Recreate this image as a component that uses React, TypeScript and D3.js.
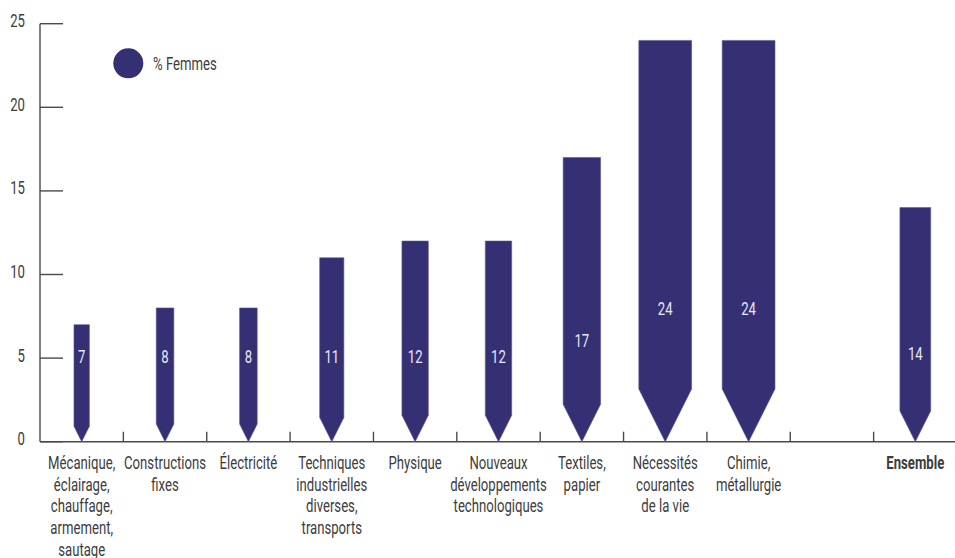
import React from "react";
import * as d3 from "d3";

const categories: string[][] = [
  ["Mécanique,", "éclairage,", "chauffage,", "armement,", "sautage"],
  ["Constructions", "fixes"],
  ["Électricité"],
  ["Techniques", "industrielles", "diverses,", "transports"],
  ["Physique"],
  ["Nouveaux", "développements", "technologiques"],
  ["Textiles,", "papier"],
  ["Nécessités", "courantes", "de la vie"],
  ["Chimie,", "métallurgie"],
  [],
  ["Ensemble"],
];
const values: (number | null)[] = [7, 8, 8, 11, 12, 12, 17, 24, 24, null, 14];
const boldFlags: boolean[] = [false, false, false, false, false, false, false, false, false, false, true];
const yTicks: number[] = [0, 5, 10, 15, 20, 25];
const legendLabel = "% Femmes";

const W = 955;
const H = 558;
const BAR = "#352f73";
const FONT = "Roboto, 'DejaVu Sans', sans-serif";
const SX = 0.73;
const FS = 18;

function CText(props: {
  x: number;
  y: number;
  anchor?: string;
  fill: string;
  bold?: boolean;
  dy?: string;
  children: React.ReactNode;
}) {
  return (
    <g transform={`translate(${props.x},${props.y}) scale(${SX},1)`}>
      <text
        x={0}
        y={0}
        dy={props.dy}
        textAnchor={props.anchor || "start"}
        fill={props.fill}
        fontSize={FS}
        fontWeight={props.bold ? "bold" : "normal"}
        fontFamily={FONT}
      >
        {props.children}
      </text>
    </g>
  );
}

export default function App() {
  const x = d3
    .scaleBand<number>()
    .domain(categories.map((_, i) => i))
    .range([40, 957])
    .padding(0);
  const y = d3.scaleLinear().domain([0, 25]).range([441.7, 23.7]);
  const wScale = d3.scaleLinear().domain([0, 1]).range([0, 2.2]);
  const labelVal = (v: number) => Math.max(5.12, 0.266 * v + 1.56);

  const bars = values.map((v, i) => {
    if (v == null) return null;
    const cx = (x(i) as number) + x.bandwidth() / 2;
    const w = wScale(v);
    const top = y(v);
    const tip = y(0);
    const h = w;
    const path = d3.path();
    path.moveTo(cx - w / 2, top);
    path.lineTo(cx + w / 2, top);
    path.lineTo(cx + w / 2, tip - h);
    path.lineTo(cx, tip);
    path.lineTo(cx - w / 2, tip - h);
    path.closePath();
    return (
      <g key={i}>
        <path d={path.toString()} fill={BAR} stroke="#5d5894" strokeWidth={0.6} />
        <CText x={cx} y={y(labelVal(v))} dy="0.36em" anchor="middle" fill="#e9e7f2">
          {v}
        </CText>
      </g>
    );
  });

  const boundaries = categories.slice(1).map((_, i) => x(i + 1) as number);

  return (
    <svg
      width={W}
      height={H}
      style={{ position: "absolute", left: 0, top: 0, display: "block", background: "#fff" }}
    >
      {/* y axis */}
      <line x1={40} x2={40} y1={y(25)} y2={y(0)} stroke="#4a4a4a" strokeWidth={1.4} />
      {yTicks.map((t) => (
        <g key={t}>
          <line x1={40} x2={63} y1={y(t)} y2={y(t)} stroke="#4a4a4a" strokeWidth={1.4} />
          <CText x={25} y={y(t) - 3} dy="0.36em" anchor="end" fill="#3c3c3c">
            {t}
          </CText>
        </g>
      ))}
      {/* x axis */}
      <line x1={40} x2={955} y1={y(0)} y2={y(0)} stroke="#4a4a4a" strokeWidth={1.4} />
      {boundaries.map((bx, i) => (
        <line key={i} x1={bx} x2={bx} y1={y(0)} y2={y(0) - 10} stroke="#4a4a4a" strokeWidth={1.4} />
      ))}
      {bars}
      {/* category labels */}
      {categories.map((lines, i) =>
        lines.map((l, j) => (
          <CText
            key={`${i}-${j}`}
            x={(x(i) as number) + x.bandwidth() / 2}
            y={469 + j * 21.7}
            anchor="middle"
            fill="#3c3c3c"
            bold={boldFlags[i]}
          >
            {l}
          </CText>
        ))
      )}
      {/* legend */}
      <circle cx={128.3} cy={63.3} r={15} fill={BAR} />
      <CText x={153} y={63.3} dy="0.36em" fill="#3c3c3c">
        {legendLabel}
      </CText>
    </svg>
  );
}
